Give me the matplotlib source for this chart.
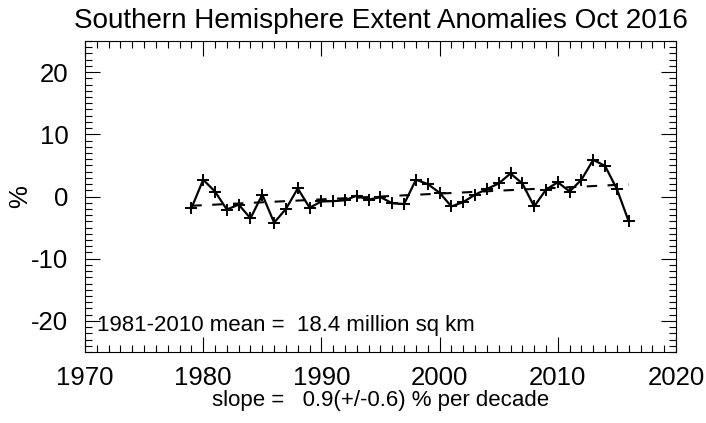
import numpy as np
import matplotlib
matplotlib.use('Agg')
import matplotlib.pyplot as plt
from matplotlib.ticker import MultipleLocator

plt.rcParams['font.family'] = ['Liberation Sans', 'DejaVu Sans']
plt.rcParams['axes.unicode_minus'] = False

# October extent anomalies (%)
years = list(range(1979, 2017))
anomaly = [-1.9, 2.7, 0.8, -2.1, -1.3, -3.5, 0.3, -4.2, -2.0, 1.3,
           -1.8, -0.8, -0.75, -0.6, 0.15, -0.5, -0.1, -1.1, -1.2, 2.7,
           2.0, 0.6, -1.6, -0.9, 0.3, 1.2, 2.1, 3.7, 2.1, -1.6,
           1.1, 2.3, 0.8, 2.7, 5.9, 4.9, 1.2, -4.0]

title = 'Southern Hemisphere Extent Anomalies Oct 2016'
mean_text = '1981-2010 mean =  18.4 million sq km'
slope_text = 'slope =   0.9(+/-0.6) % per decade'

# linear trend
coef = np.polyfit(years, anomaly, 1)
trend = np.polyval(coef, years)

fig = plt.figure(figsize=(7.06, 4.23), dpi=100)
ax = fig.add_axes([0.1204, 0.1678, 0.8371, 0.7353])

ax.plot(years, anomaly, color='black', linewidth=1.6, marker='+',
        markersize=9, markeredgewidth=1.4)
ax.plot(years, trend, color='black', linewidth=1.5, linestyle=(0, (5, 5)))

ax.set_xlim(1970, 2020)
ax.set_ylim(-25, 25)
ax.xaxis.set_major_locator(MultipleLocator(10))
ax.xaxis.set_minor_locator(MultipleLocator(1))
ax.yaxis.set_major_locator(MultipleLocator(10))
ax.yaxis.set_minor_locator(MultipleLocator(1))
ax.tick_params(which='both', direction='in', top=True, right=True,
               labelsize=18.5, width=0.8)
ax.tick_params(axis='x', pad=10)
ax.tick_params(axis='y', pad=12)
ax.tick_params(which='major', length=11)
ax.tick_params(which='minor', length=5)
for s in ax.spines.values():
    s.set_linewidth(0.8)

ax.set_title(title, fontsize=20.1, pad=9)
ax.set_ylabel('%', fontsize=18.5)
ax.yaxis.set_label_coords(-0.09, 0.5)
ax.set_xlabel(slope_text, fontsize=16, labelpad=0)
ax.text(0.02, 0.085, mean_text, transform=ax.transAxes, fontsize=16,
        va='center', ha='left')

fig.savefig('out.png', dpi=100)
